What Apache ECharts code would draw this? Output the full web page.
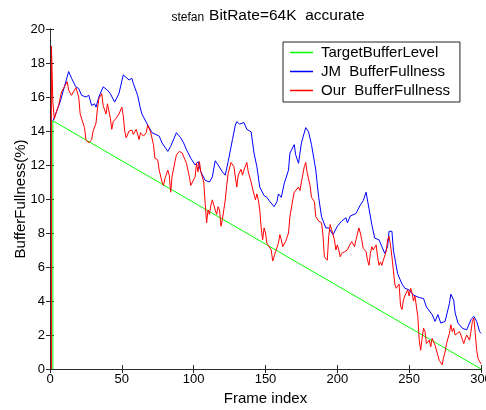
<!DOCTYPE html>
<html>
<head>
<meta charset="utf-8">
<script src="https://cdn.jsdelivr.net/npm/echarts@6/dist/echarts.min.js"></script>
<style>html,body{margin:0;padding:0;background:#fff}#c{width:486px;height:410px}</style>
</head>
<body>
<div id="c"></div>
<script>
var xTicks = [0, 50, 100, 150, 200, 250, 300];
var yTicks = [0, 2, 4, 6, 8, 10, 12, 14, 16, 18, 20];

var targetFrames = [2, 2, 300];
var targetValues = [0, 14.6, 0];

var jmFrames = [2,3,7,10,13,15,18,20,22,25,27,29,31,32,34,37,40,42,45,48,51,52,55,57,58,61,63,64,68,71,76,78,82,84,88,91,93,95,98,101,103,105,108,111,113,115,117,120,122,124,127,129,130,132,135,137,140,142,144,146,149,151,153,156,158,159,161,163,166,167,170,171,173,175,178,180,182,185,187,189,192,194,197,200,203,206,207,209,213,216,218,220,222,224,226,229,231,233,235,236,238,239,242,245,247,250,253,257,260,262,266,268,270,272,275,278,279,281,282,284,287,290,293,295,297,299,300];
var jmValues = [14.6,14.8,15.7,16.6,17.5,17.1,16.6,16.5,16.1,16.0,16.1,15.5,15.6,15.4,16.0,16.6,16.4,16.2,15.7,16.2,17.3,17.4,17.0,17.1,16.8,16.1,15.3,15.0,14.35,13.9,13.7,13.3,12.8,13.1,13.9,13.6,13.3,12.9,12.4,12.0,12.2,11.6,11.1,11.0,11.3,12.25,12.0,11.6,11.4,12.2,13.5,14.35,14.55,14.4,14.5,14.1,13.95,12.7,11.9,10.7,10.2,10.1,9.85,9.55,9.85,10.3,10.1,10.9,11.7,12.7,13.2,12.6,12.1,13.3,14.2,13.95,13.2,11.7,10.1,8.96,8.3,8.3,7.9,8.4,8.7,8.9,8.6,9.0,9.15,9.65,9.9,10.4,9.45,8.5,7.7,7.6,7.2,6.8,7.2,8.1,8.1,7.0,5.6,5.0,4.75,4.65,4.35,4.2,4.15,3.65,3.2,2.8,3.2,2.7,2.8,3.85,4.4,4.05,3.3,2.7,2.4,2.3,2.9,3.1,2.8,2.2,2.1];

var ourFrames = [1,1,2,3,4,6,8,10,12,13,15,17,18,20,21,22,24,25,27,29,30,32,33,34,36,37,39,40,41,42,43,44,46,48,50,51,52,53,55,57,58,60,62,63,65,67,68,70,72,73,75,76,78,79,80,82,83,84,85,87,88,90,92,94,95,97,98,99,101,102,103,104,105,107,108,109,110,111,112,113,115,116,117,118,119,120,122,123,124,125,126,128,130,131,133,134,135,137,138,140,141,143,144,145,146,147,148,149,150,151,152,154,155,157,159,160,161,162,164,165,166,167,169,170,171,173,174,175,177,178,179,181,182,184,185,187,188,189,190,191,193,194,195,196,198,199,200,201,202,203,205,207,208,210,212,213,215,216,217,218,220,221,222,223,224,225,227,228,229,230,231,232,234,235,236,237,238,239,240,241,243,244,245,246,247,249,250,251,252,253,254,256,257,258,259,260,261,262,264,265,266,267,268,270,271,273,274,275,276,278,279,280,281,282,283,285,286,287,288,289,290,292,293,294,295,296,297,298,300];
var ourValues = [0,19.0,15.7,14.7,15.0,15.5,16.3,16.6,16.9,16.4,16.1,16.4,16.55,16.0,15.0,14.9,14.2,13.5,13.3,13.5,14.0,14.45,15.3,15.9,16.2,15.5,15.0,15.6,15.5,14.75,14.1,14.55,14.75,15.0,15.4,14.9,14.0,13.6,14.0,14.05,13.8,14.1,13.5,13.9,13.7,13.9,14.35,13.95,13.2,12.4,12.3,11.7,11.0,10.8,11.2,11.7,11.4,10.4,11.35,12.2,12.6,12.8,12.7,12.3,12.1,11.3,10.8,10.8,11.3,12.1,11.6,12.2,11.6,11.0,9.75,8.6,9.35,9.1,9.65,9.95,9.35,9.1,9.55,9.35,8.4,8.8,9.95,10.8,11.5,11.55,12.15,11.9,10.7,11.4,11.75,11.4,11.7,12.15,11.6,11.0,10.6,9.95,10.3,9.95,9.35,8.3,7.6,8.3,8.0,7.4,7.5,7.0,6.35,6.9,7.4,7.9,7.6,7.2,7.5,7.6,8.0,8.96,9.95,10.4,10.3,10.7,10.5,11.0,11.9,12.15,11.55,10.8,10.1,9.85,8.96,8.7,8.8,8.6,7.9,6.6,6.4,7.8,8.5,8.2,7.6,7.0,7.3,7.0,6.6,6.8,6.9,7.0,7.2,7.5,7.2,7.6,8.3,8.0,7.6,7.1,6.9,6.4,6.1,6.8,7.2,7.0,7.3,6.6,6.1,6.3,6.1,6.4,6.9,7.6,7.8,7.3,6.6,5.8,5.0,4.75,5.0,3.7,3.5,4.05,4.3,4.65,4.3,4.75,4.5,4.0,4.3,3.1,1.7,1.1,1.8,2.4,2.2,1.5,1.7,1.3,1.8,1.7,1.4,0.8,0.5,0.25,0.7,1.0,1.5,2.1,2.6,2.2,2.4,2.0,2.1,2.2,2.0,2.1,1.5,1.6,2.0,1.7,2.2,2.8,3.0,2.1,1.1,0.6,0.3,1.0];

function zip(a, b) { return a.map(function (v, i) { return [v, b[i]]; }); }

var FONT = 'Liberation Sans, Arial, sans-serif';
var axisCol = '#2b2b2b';

var chart = echarts.init(document.getElementById('c'), null, { renderer: 'canvas' });
chart.setOption({
  backgroundColor: '#ffffff',
  animation: false,
  title: {
    text: '{s|stefan} {b|BitRate=64K  accurate}',
    left: 263, top: 1, textAlign: 'center',
    textStyle: {
      fontWeight: 'normal',
      rich: {
        s: { fontFamily: FONT, fontSize: 12, fontWeight: 'normal', color: '#000', verticalAlign: 'bottom' },
        b: { fontFamily: FONT, fontSize: 15.5, fontWeight: 'normal', color: '#000', verticalAlign: 'bottom' }
      }
    }
  },
  grid: { left: 50, right: 5, top: 29, bottom: 41, containLabel: false, outerBoundsMode: 'none' },
  legend: {
    orient: 'vertical', left: 283, top: 42,
    backgroundColor: '#fff', borderColor: '#222', borderWidth: 1, borderRadius: 0,
    padding: [3, 10, 4, 7],
    itemGap: 4, itemWidth: 23, itemHeight: 1.5, icon: 'rect',
    textStyle: { fontFamily: FONT, fontSize: 15, color: '#000', padding: [0, 0, 0, 3] },
    data: ['TargetBufferLevel', 'JM  BufferFullness', 'Our  BufferFullness']
  },
  xAxis: [{
    type: 'value', min: xTicks[0], max: xTicks[xTicks.length - 1], interval: 50,
    name: 'Frame index', nameLocation: 'middle', nameGap: 22,
    nameTextStyle: { fontFamily: FONT, fontSize: 15, color: '#000' },
    axisLine: { show: true, lineStyle: { color: axisCol, width: 1 } },
    axisTick: { show: true, inside: true, length: 4, lineStyle: { color: axisCol } },
    axisLabel: { fontFamily: FONT, fontSize: 13, color: '#000', margin: 4 },
    splitLine: { show: false }
  }, {
    type: 'value', position: 'top', min: xTicks[0], max: xTicks[xTicks.length - 1], interval: 50,
    axisLine: { show: true, lineStyle: { color: axisCol, width: 1 } },
    axisTick: { show: true, inside: true, length: 4, lineStyle: { color: axisCol } },
    axisLabel: { show: false }, splitLine: { show: false }
  }],
  yAxis: [{
    type: 'value', min: yTicks[0], max: yTicks[yTicks.length - 1], interval: 2,
    name: 'BufferFullness(%)', nameLocation: 'middle', nameGap: 22, nameMoveOverlap: false,
    nameTextStyle: { fontFamily: FONT, fontSize: 15, color: '#000' },
    axisLine: { show: true, lineStyle: { color: axisCol, width: 1 } },
    axisTick: { show: true, inside: true, length: 4, lineStyle: { color: axisCol } },
    axisLabel: { fontFamily: FONT, fontSize: 13, color: '#000', margin: 5 },
    splitLine: { show: false }
  }, {
    type: 'value', position: 'right', min: yTicks[0], max: yTicks[yTicks.length - 1], interval: 2,
    axisLine: { show: true, lineStyle: { color: axisCol, width: 1 } },
    axisTick: { show: true, inside: true, length: 4, lineStyle: { color: axisCol } },
    axisLabel: { show: false }, splitLine: { show: false }
  }],
  series: [{
    name: 'TargetBufferLevel', type: 'line', data: zip(targetFrames, targetValues),
    showSymbol: false, symbol: 'none', color: '#00ff00',
    lineStyle: { color: '#00ff00', width: 1 }, z: 2
  }, {
    name: 'JM  BufferFullness', type: 'line', data: zip(jmFrames, jmValues),
    showSymbol: false, symbol: 'none', color: '#0000ff',
    lineStyle: { color: '#0000ff', width: 1 }, z: 3
  }, {
    name: 'Our  BufferFullness', type: 'line', data: zip(ourFrames, ourValues),
    showSymbol: false, symbol: 'none', color: '#ff0000',
    lineStyle: { color: '#ff0000', width: 1 }, z: 4
  }]
});
</script>
</body>
</html>
